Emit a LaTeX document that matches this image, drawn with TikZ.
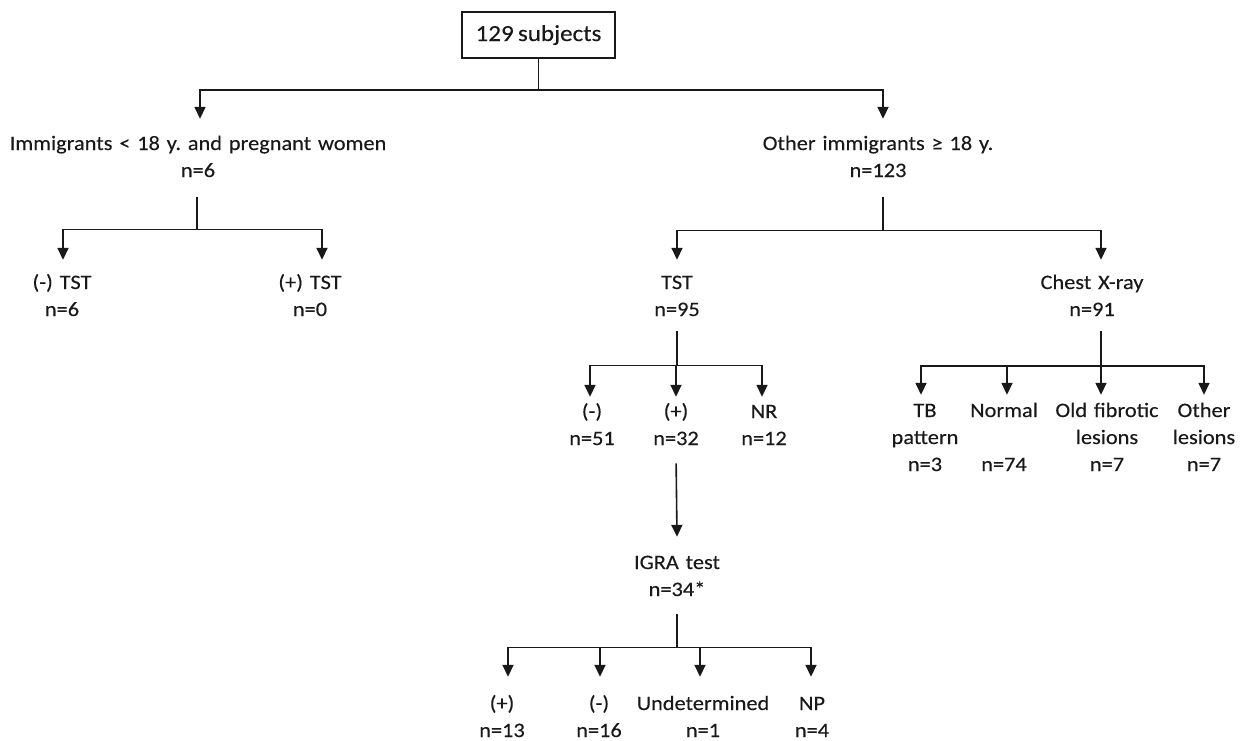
\documentclass[tikz,border=0pt]{standalone}
\usepackage{fontspec}
\setmainfont{Carlito}[FakeStretch=1.09,FakeBold=0.25,WordSpace=0.75]
\usetikzlibrary{arrows.meta}
\frenchspacing
\begin{document}
\begin{tikzpicture}[x=1pt,y=-1pt,
  line/.style={line width=1.6pt, draw=black!90},
  arr/.style={line, -{Triangle[length=12pt,width=11pt]}},
  lbl/.style={align=center, text width=400pt, anchor=base, inner xsep=0pt, text height=14pt, text=black!90, font=\fontsize{20.5}{27}\selectfont\frenchspacing},
  ]
\useasboundingbox (0,0) rectangle (1242,740);

\node[draw, line width=1.6pt, draw=black!90, minimum width=153pt, minimum height=46pt, inner sep=0pt, text=black!90, font=\fontsize{23}{27}\selectfont] (root) at (538.5,35) {129 subjects};

\node[lbl, inner ysep=17pt] (imm) at (198,150) {Immigrants < 18 y. and pregnant women\\n=6};
\node[lbl, inner ysep=17pt] (oth) at (878,150) {Other immigrants ≥ 18 y.\\n=123};

\node[lbl, inner ysep=15pt] (ntst) at (62,289) {(-) TST\\n=6};
\node[lbl, inner ysep=15pt] (ptst) at (310,289) {(+) TST\\n=0};
\node[lbl, inner ysep=15pt] (tst) at (677,289) {TST\\n=95};
\node[lbl, inner ysep=15pt] (cxr) at (1092,289) {Chest X-ray\\n=91};

\node[lbl, inner ysep=7pt] (tneg) at (592,418) {(-)\\n=51};
\node[lbl, inner ysep=7pt] (tpos) at (676,418) {(+)\\n=32};
\node[lbl, inner ysep=7pt] (tnr) at (764,418) {NR\\n=12};

\node[lbl, inner ysep=8pt] (tb) at (925,417) {TB\\pattern\\n=3};
\node[lbl, inner ysep=8pt] (norm) at (1004,417) {Normal\\[27pt]n=74};
\node[lbl, inner ysep=8pt] (old) at (1107,417) {Old fibrotic\\lesions\\n=7};
\node[lbl, inner ysep=8pt] (othl) at (1204,417) {Other\\lesions\\n=7};

\node[lbl, inner ysep=18pt] (igra) at (677,569) {IGRA test\\n=34*};

\node[lbl, inner ysep=19pt] (ipos) at (502,710) {(+)\\n=13};
\node[lbl, inner ysep=19pt] (ineg) at (599,710) {(-)\\n=16};
\node[lbl, inner ysep=19pt] (iund) at (703,710) {Undetermined\\n=1};
\node[lbl, inner ysep=19pt] (inp) at (812,710) {NP\\n=4};

% connectors
\draw[line] (root.south) -- ++(0,31) coordinate (j0);
\draw[arr] (j0) -| ([xshift=2pt]imm.north);
\draw[arr] (j0) -| ([xshift=5pt]oth.north);

\draw[line, shorten <=3pt] ([xshift=-1pt]imm.south) -- ++(0,35) coordinate (j1);
\draw[arr] (j1) -| ([xshift=1pt]ntst.north);
\draw[arr] (j1) -| ([xshift=12pt]ptst.north);

\draw[line, shorten <=3pt] ([xshift=5pt]oth.south) -- ++(0,36) coordinate (j2);
\draw[arr] (j2) -| (tst.north);
\draw[arr] (j2) -| ([xshift=9pt]cxr.north);

\draw[line] (tst.south) -- ++(0,34) coordinate (j3);
\draw[arr] (j3) -| ([xshift=-2pt]tneg.north);
\draw[arr] (j3) -| (tpos.north);
\draw[arr] (j3) -| ([xshift=-2pt]tnr.north);

\draw[line] ([xshift=9pt]cxr.south) -- ++(0,35) coordinate (j4);
\draw[arr] (j4) -| ([xshift=-4pt]tb.north);
\draw[arr] (j4) -| ([xshift=3pt]norm.north);
\draw[arr] (j4) -| ([xshift=-6pt]old.north);
\draw[arr] (j4) -| (othl.north);

\draw[arr, shorten <=11pt] (tpos.south) -- (igra.north);

\draw[line] (igra.south) -- ++(0,33) coordinate (j5);
\draw[arr] (j5) -| ([xshift=6pt]ipos.north);
\draw[arr] (j5) -| ([xshift=1pt]ineg.north);
\draw[arr] (j5) -| ([xshift=-3pt]iund.north);
\draw[arr] (j5) -| ([xshift=-1pt]inp.north);
\end{tikzpicture}
\end{document}
